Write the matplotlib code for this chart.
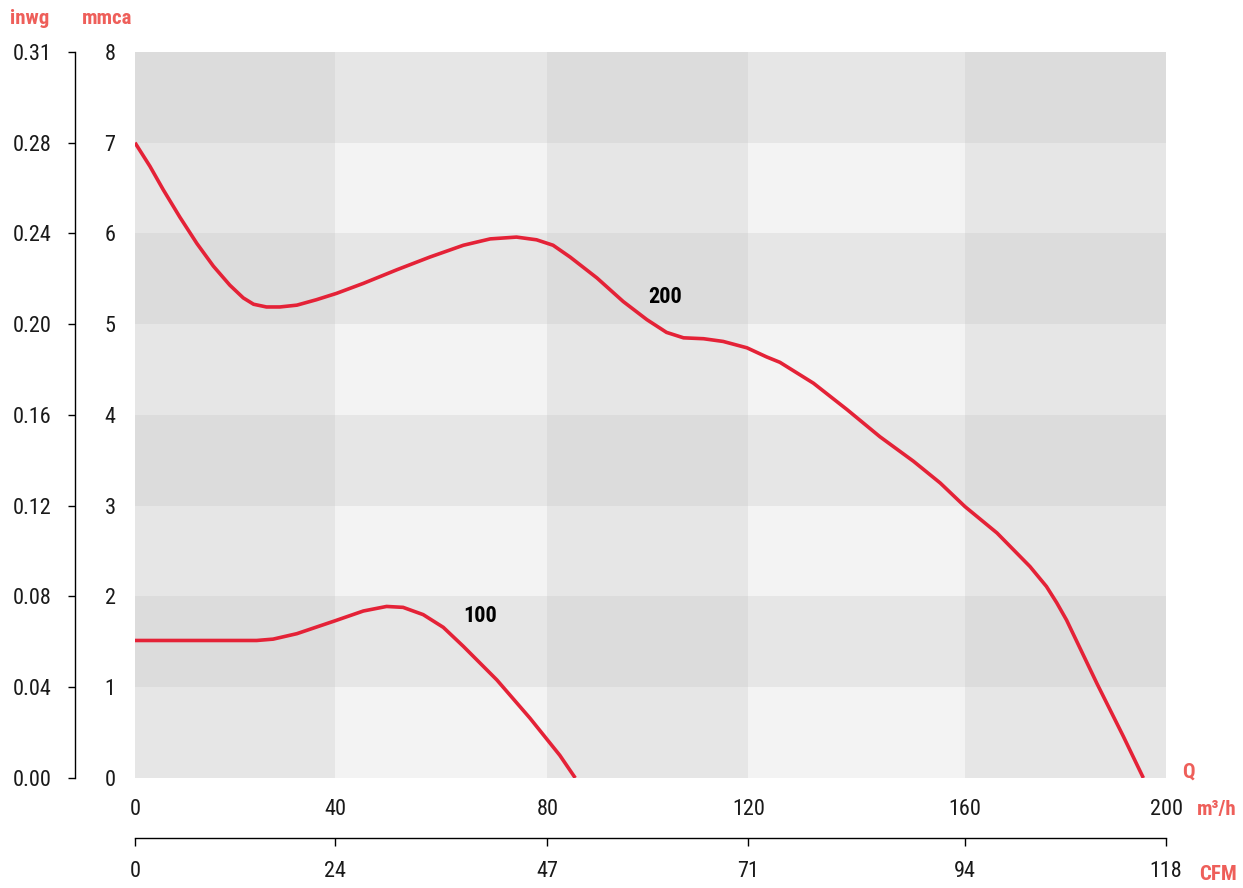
import numpy as np
import matplotlib.pyplot as plt
from matplotlib.colors import ListedColormap

plt.rcParams['font.family'] = ['Roboto Condensed', 'Liberation Sans Narrow', 'DejaVu Sans']

# curve for speed 200 (m3/h, mmca)
q200 = [0, 2.9, 5.5, 8.7, 12, 15.2, 18.4, 21, 23, 25.5, 28.1, 31.4, 35.2, 39.1, 44.3,
        50.8, 57.2, 63.7, 68.9, 74, 77.9, 81.1, 84.4, 89.6, 94.7, 99.3, 103.1, 106.4,
        110.3, 114.1, 118.7, 122.5, 125.1, 131.6, 138.1, 144.5, 151, 156.2, 161, 167.2,
        173.6, 176.8, 178.8, 180.7, 186.6, 191.7, 195.6]
p200 = [7.0, 6.74, 6.48, 6.18, 5.89, 5.64, 5.43, 5.29, 5.22, 5.19, 5.19, 5.21, 5.27, 5.34, 5.45,
        5.60, 5.74, 5.87, 5.94, 5.96, 5.93, 5.87, 5.74, 5.51, 5.25, 5.05, 4.91, 4.85,
        4.84, 4.81, 4.74, 4.64, 4.58, 4.35, 4.06, 3.76, 3.49, 3.25, 2.99, 2.70,
        2.33, 2.11, 1.93, 1.74, 1.04, 0.46, 0.0]

# curve for speed 100
q100 = [0, 12, 23.6, 26.8, 31.4, 38.7, 44.3, 48.8, 52, 55.9, 59.8, 63.7, 70.2, 76.6, 82.4, 85.4]
p100 = [1.515, 1.515, 1.515, 1.53, 1.59, 1.73, 1.84, 1.89, 1.88, 1.80, 1.66, 1.45, 1.08, 0.66,
        0.25, 0.0]

# grid/tick positions as drawn on the chart (m3/h scale)
col_edges = [0, 38.8, 80, 119, 161, 200]
m3h_labels = ['0', '40', '80', '120', '160', '200']
cfm_labels = ['0', '24', '47', '71', '94', '118']
mmca_ticks = [0, 1, 2, 3, 4, 5, 6, 7, 8]
inwg_labels = ['0.00', '0.04', '0.08', '0.12', '0.16', '0.20', '0.24', '0.28', '0.31']

red = '#e42237'
head = '#ee5f5a'
txt = '#1a1a1a'
fs = 16

fig = plt.figure(figsize=(12.43, 8.88), dpi=100)
ax = fig.add_axes([0.1086, 0.1239, 0.8295, 0.8176])

# checkerboard background
row_dark = np.array([(i % 2) for i in range(8)])
col_dark = np.array([1 - (j % 2) for j in range(5)])
shade = row_dark[:, None] + col_dark[None, :]
cmap = ListedColormap(['#f3f3f3', '#e6e6e6', '#dcdcdc'])
ax.pcolormesh(col_edges, mmca_ticks, shade, cmap=cmap, vmin=-0.5, vmax=2.5, zorder=0)

ax.plot(q200, p200, color=red, lw=2.6, solid_capstyle='butt', solid_joinstyle='round', zorder=3)
ax.plot(q100, p100, color=red, lw=2.6, solid_capstyle='butt', solid_joinstyle='round', zorder=3)
ax.text(102.8, 5.3, '200', fontsize=fs, fontweight='bold', color='black', ha='center', va='center')
ax.text(67, 1.79, '100', fontsize=fs, fontweight='bold', color='black', ha='center', va='center')

ax.set_xlim(0, 200)
ax.set_ylim(0, 8)
for s in ax.spines.values():
    s.set_visible(False)
ax.set_xticks(col_edges)
ax.set_xticklabels(m3h_labels)
ax.set_yticks(mmca_ticks)
ax.tick_params(axis='both', length=0, labelsize=fs, labelcolor=txt)
ax.tick_params(axis='y', pad=14)
ax.tick_params(axis='x', pad=15)

# inwg axis on the left
ax2 = ax.twinx()
ax2.set_ylim(0, 8)
for k in ['top', 'right', 'bottom']:
    ax2.spines[k].set_visible(False)
ax2.spines['left'].set_visible(True)
ax2.spines['left'].set_position(('outward', 43))
ax2.spines['left'].set_linewidth(1.0)
ax2.yaxis.set_ticks_position('left')
ax2.yaxis.set_label_position('left')
ax2.set_yticks(mmca_ticks)
ax2.set_yticklabels(inwg_labels)
ax2.tick_params(axis='y', direction='out', length=5, width=1.0, labelsize=fs, labelcolor=txt, pad=12)

# CFM axis at the bottom
ax3 = ax.twiny()
ax3.set_xlim(0, 200)
for k in ['top', 'right', 'left']:
    ax3.spines[k].set_visible(False)
ax3.spines['bottom'].set_visible(True)
ax3.spines['bottom'].set_position(('outward', 43))
ax3.spines['bottom'].set_linewidth(1.0)
ax3.xaxis.set_ticks_position('bottom')
ax3.set_xticks(col_edges)
ax3.set_xticklabels(cfm_labels)
ax3.tick_params(axis='x', direction='out', length=6, width=1.0, labelsize=fs, labelcolor=txt, pad=11)

fig.text(30 / 1243, 1 - 18 / 888, 'inwg', color=head, fontsize=15, fontweight='bold', ha='center', va='center')
fig.text(107 / 1243, 1 - 18 / 888, 'mmca', color=head, fontsize=15, fontweight='bold', ha='center', va='center')
fig.text(1188 / 1243, 1 - 772 / 888, 'Q', color=head, fontsize=15, fontweight='bold', ha='center', va='center')
fig.text(1197 / 1243, 1 - 809 / 888, 'm³/h', color=head, fontsize=15, fontweight='bold', ha='left', va='center')
fig.text(1199 / 1243, 1 - 874 / 888, 'CFM', color=head, fontsize=15, fontweight='bold', ha='left', va='center')

fig.savefig('out.png', dpi=100)
